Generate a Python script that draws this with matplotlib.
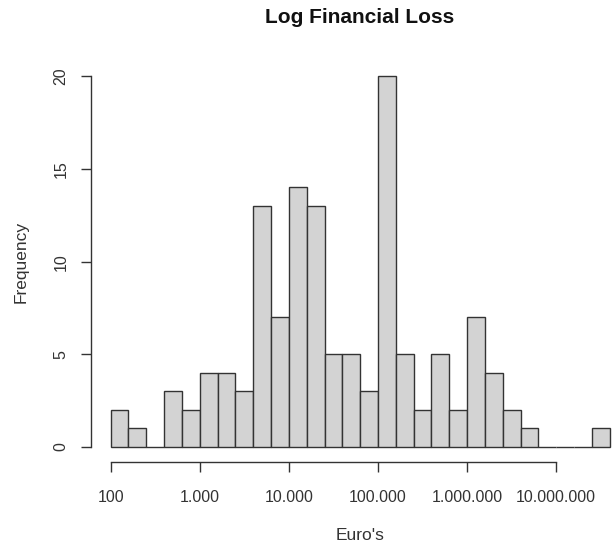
import matplotlib.pyplot as plt
import numpy as np

# log10(euro) bin edges, width 0.2
bin_starts = [2.0, 2.2, 2.4, 2.6, 2.8, 3.0, 3.2, 3.4, 3.6, 3.8, 4.0, 4.2, 4.4, 4.6,
              4.8, 5.0, 5.2, 5.4, 5.6, 5.8, 6.0, 6.2, 6.4, 6.6, 6.8, 7.0, 7.2, 7.4]
counts = [2, 1, 0, 3, 2, 4, 4, 3, 13, 7, 14, 13, 5, 5,
          3, 20, 5, 2, 5, 2, 7, 4, 2, 1, 0, 0, 0, 1]
bin_width = 0.2

x_ticks = [2, 3, 4, 5, 6, 7]
x_labels = ['100', '1.000', '10.000', '100.000', '1.000.000', '10.000.000']
y_ticks = [0, 5, 10, 15, 20]

plt.rcParams['font.family'] = ['Liberation Sans', 'DejaVu Sans']
txt = '#333333'

fig = plt.figure(figsize=(6.12, 5.49), dpi=100)
ax = fig.add_axes([0.1482, 0.1588, 0.8806, 0.7293])

ax.bar(bin_starts, counts, width=bin_width, align='edge',
       color='#d3d3d3', edgecolor='#333333', linewidth=1.0)

ax.set_xlim(1.776, 7.824)
ax.set_ylim(-0.8, 20.8)

for s in ['top', 'right']:
    ax.spines[s].set_visible(False)
ax.spines['left'].set_bounds(0, 20)
ax.spines['bottom'].set_bounds(2, 7)
for s in ['left', 'bottom']:
    ax.spines[s].set_color('#333333')
    ax.spines[s].set_linewidth(1.0)

ax.set_xticks(x_ticks)
ax.set_xticklabels(x_labels)
ax.set_yticks(y_ticks)
ax.set_yticklabels([str(v) for v in y_ticks], rotation=90, va='center')
ax.tick_params(axis='both', length=7, width=1.0, color='#333333',
               labelsize=11.5, labelcolor=txt)
ax.tick_params(axis='x', pad=13)
ax.tick_params(axis='y', pad=9)

ax.set_xlabel("Euro's", fontsize=12.5, color=txt, labelpad=17)
ax.set_ylabel('Frequency', fontsize=12.5, color=txt, labelpad=18)
fig.text(0.587, 0.968, 'Log Financial Loss', fontsize=15, fontweight='bold',
         ha='center', va='center', color='#111111')

fig.savefig('out.png', dpi=100)
